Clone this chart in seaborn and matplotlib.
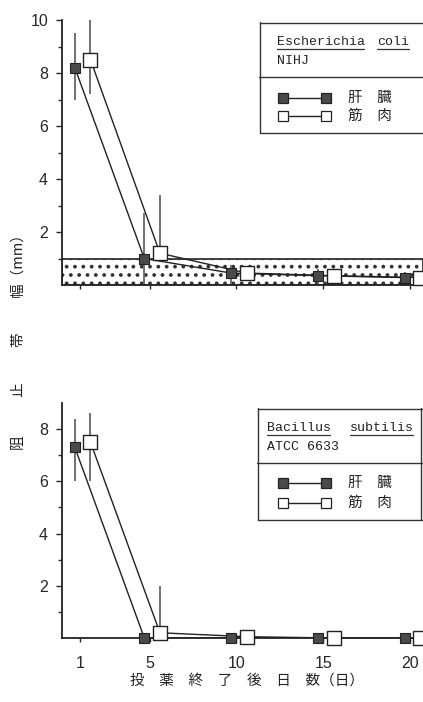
import matplotlib
matplotlib.use("Agg")
import matplotlib.pyplot as plt
from matplotlib.patches import Rectangle
from matplotlib.lines import Line2D
import seaborn as sns
import pandas as pd
import numpy as np

# ---------------- data ----------------
days = [1, 5, 10, 15, 20]
xtick_labels = ["1", "5", "10", "15", "20"]

ecoli_liver = [8.2, 1.0, 0.45, 0.35, 0.28]
ecoli_liver_lo = [7.0, 0.0, 0.0, 0.0, 0.0]
ecoli_liver_hi = [9.5, 2.7, 0.75, 0.6, 0.5]
ecoli_muscle = [8.5, 1.2, 0.45, 0.35, 0.28]
ecoli_muscle_lo = [7.2, 0.9, 0.3, 0.25, 0.2]
ecoli_muscle_hi = [10.0, 3.4, 0.6, 0.5, 0.4]

bsub_liver = [7.3, 0.0, 0.0, 0.0, 0.0]
bsub_liver_lo = [6.0, 0.0, 0.0, 0.0, 0.0]
bsub_liver_hi = [8.4, 0.0, 0.0, 0.0, 0.0]
bsub_muscle = [7.5, 0.2, 0.05, 0.0, 0.0]
bsub_muscle_lo = [6.0, 0.0, 0.0, 0.0, 0.0]
bsub_muscle_hi = [8.6, 2.0, 0.0, 0.0, 0.0]

detect_limit = 1.0
liver_label = "肝　臓"
muscle_label = "筋　肉"
ylabel_parts = ["阻", "止", "帯", "幅（mm）"]
xlabel = "投　薬　終　了　後　日　数（日）"

# ---------------- style ----------------
sns.set_style("ticks")
plt.rcParams["font.family"] = ["Liberation Sans", "DejaVu Sans"]
plt.rcParams["hatch.linewidth"] = 1.5
plt.rcParams["hatch.color"] = "#444444"
JP = ["Noto Sans CJK JP", "DejaVu Sans"]
MONO = ["Liberation Mono", "DejaVu Sans Mono"]

W, H = 423, 702
fig = plt.figure(figsize=(W / 100, H / 100), dpi=100)


def fr(x0, y0, x1, y1):
    return [x0 / W, 1 - y1 / H, (x1 - x0) / W, (y1 - y0) / H]


liver_off = -0.3
muscle_off = 0.6
XLIM = (-0.04, 20.75)
FILL = "#4a4a4a"


def panel(ax, liver, llo, lhi, muscle, mlo, mhi, ymax, yticks):
    lx = [d + liver_off for d in days]
    mx = [d + muscle_off for d in days]
    df_l = pd.DataFrame({"x": lx, "y": liver})
    df_m = pd.DataFrame({"x": mx, "y": muscle})
    ax.vlines(lx, llo, lhi, color="#666666", lw=1.3, zorder=2)
    ax.vlines(mx, mlo, mhi, color="#666666", lw=1.3, zorder=2)
    sns.lineplot(data=df_l, x="x", y="y", ax=ax, color="#222222", lw=1.0,
                 sort=False, zorder=3)
    sns.lineplot(data=df_m, x="x", y="y", ax=ax, color="#222222", lw=1.0,
                 sort=False, zorder=3)
    sns.scatterplot(data=df_l, x="x", y="y", ax=ax, marker="s", s=60,
                    color=FILL, edgecolor="#222222", linewidth=0.8,
                    zorder=5, clip_on=False)
    sns.scatterplot(data=df_m, x="x", y="y", ax=ax, marker="s", s=100,
                    color="white", edgecolor="#222222", linewidth=1.0,
                    zorder=6, clip_on=False)
    ax.set_xlim(*XLIM)
    ax.set_ylim(0, ymax)
    ax.set_yticks(yticks)
    ax.set_yticks(np.arange(1, ymax, 2), minor=True)
    ax.set_xticks(days)
    ax.tick_params(axis="y", which="major", length=4, width=1, labelsize=11.5,
                   pad=6)
    ax.tick_params(axis="y", which="minor", length=3, width=1)
    ax.tick_params(axis="x", length=3, width=1, labelsize=11.5, pad=10)
    ax.set_xlabel("")
    ax.set_ylabel("")
    for s in ["top", "right"]:
        ax.spines[s].set_visible(False)
    for s in ["left", "bottom"]:
        ax.spines[s].set_linewidth(1.3)
        ax.spines[s].set_color("#222222")


# top panel
ax1 = fig.add_axes(fr(62, 20, 423, 285))
panel(ax1, ecoli_liver, ecoli_liver_lo, ecoli_liver_hi,
      ecoli_muscle, ecoli_muscle_lo, ecoli_muscle_hi, 10, [2, 4, 6, 8, 10])
ax1.set_xticklabels([])
ax1.add_patch(Rectangle((XLIM[0], 0), XLIM[1] - XLIM[0], detect_limit,
                        facecolor="white", edgecolor="#333333", hatch="..",
                        lw=1.3, zorder=1))

# bottom panel
ax2 = fig.add_axes(fr(62, 403, 423, 638))
panel(ax2, bsub_liver, bsub_liver_lo, bsub_liver_hi,
      bsub_muscle, bsub_muscle_lo, bsub_muscle_hi, 9, [2, 4, 6, 8])
ax2.set_xticklabels(xtick_labels)

# axis labels
for txt, yc in zip(ylabel_parts, [442, 390, 340, 262]):
    fig.text(18 / W, 1 - yc / H, txt, rotation=90, ha="center", va="center",
             fontsize=10.5, family=JP, color="#222222")
fig.text(247 / W, 1 - 681 / H, xlabel,
         ha="center", va="center", fontsize=10.5, family=JP, color="#222222")


# legend boxes
def legend_box(x0, y0, x1, y1, ydiv, w1, w2, line2, rows_y, right_border):
    lax = fig.add_axes(fr(x0, y0, x1, y1))
    lax.set_xlim(x0, x1)
    lax.set_ylim(y1, y0)
    lax.axis("off")
    lw = 1.0
    c = "#333333"
    lax.plot([x0 + 0.5, x1], [y0 + 0.5, y0 + 0.5], color=c, lw=lw, clip_on=False)
    lax.plot([x0 + 0.5, x1], [y1 - 0.5, y1 - 0.5], color=c, lw=lw, clip_on=False)
    lax.plot([x0 + 0.5, x0 + 0.5], [y0, y1], color=c, lw=lw, clip_on=False)
    if right_border:
        lax.plot([x1 - 1, x1 - 1], [y0, y1], color=c, lw=lw, clip_on=False)
    lax.plot([x0, x1], [ydiv, ydiv], color=c, lw=lw, clip_on=False)
    for (tx, ty, txt) in [w1, w2]:
        lax.text(tx, ty, txt, family=MONO, fontsize=9.5, ha="left",
                 va="center", color="#222222")
        n = len(txt)
        lax.plot([tx, tx + n * 7.9], [ty + 7, ty + 7], color="#333333", lw=0.9)
    lax.text(line2[0], line2[1], line2[2], family=MONO, fontsize=9.5,
             ha="left", va="center", color="#222222")
    for ry, fc, ms, lab in [(rows_y[0], FILL, 7, liver_label),
                            (rows_y[1], "white", 7.5, muscle_label)]:
        lax.add_line(Line2D([283, 326], [ry, ry], color="#222222", lw=1.0,
                            marker="s", markersize=ms, markerfacecolor=fc,
                            markeredgecolor="#222222", markeredgewidth=0.9))
        lax.text(348, ry, lab, family=JP, fontsize=10.5, ha="left",
                 va="center", color="#222222")


legend_box(259, 22, 423, 133, 77,
           (277, 42, "Escherichia"), (377, 42, "coli"),
           (277, 61, "NIHJ"), (98, 116), False)
legend_box(257, 408, 422, 520, 463,
           (267, 428, "Bacillus"), (350, 428, "subtilis"),
           (267, 447, "ATCC 6633"), (483, 503), True)

fig.savefig("out.png", dpi=100)
